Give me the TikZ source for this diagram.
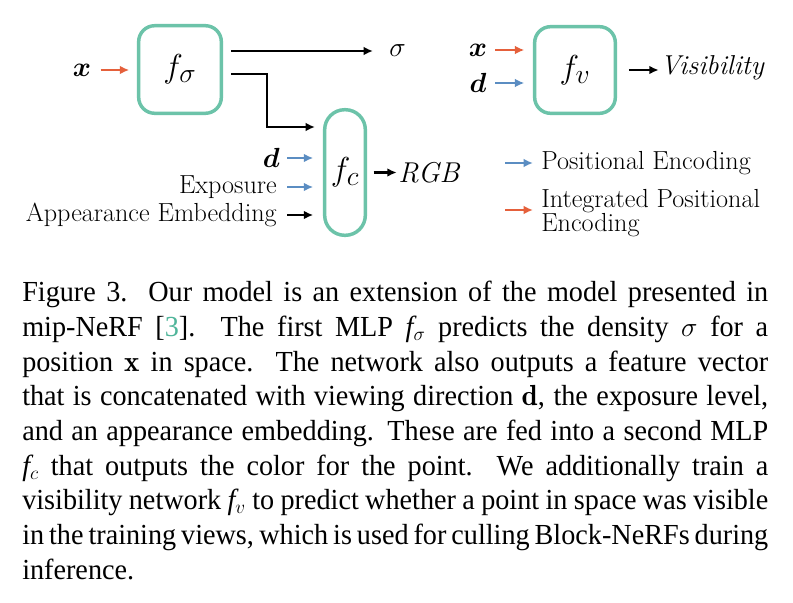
\documentclass[tikz,border=0pt]{standalone}
\usepackage{fontspec}
\usepackage{bm}
\usetikzlibrary{arrows.meta}
\newfontfamily\capfont[FakeStretch=0.97]{Liberation Serif}
\definecolor{boxc}{HTML}{6CC3A9}
\definecolor{ipec}{HTML}{E5603B}
\definecolor{pec}{HTML}{5B8DC2}
\definecolor{citec}{HTML}{4FB59A}
\hyphenpenalty=10000
\exhyphenpenalty=10000
\newcommand{\capf}{{\itshape f}}
\begin{document}
\begin{tikzpicture}[x=0.75pt,y=-0.75pt,
  mlp/.style={draw=boxc, line width=2.6pt, rounded corners=12pt, inner sep=0pt,
    font=\fontsize{30}{34}\selectfont},
  lbl/.style={inner sep=0pt, font=\fontsize{19.6}{23}\selectfont},
  big/.style={inner sep=0pt, font=\fontsize{21.5}{26}\selectfont},
  arr/.style={line width=1.6pt, -{Latex[length=7pt,width=6.5pt]}},
  capstyle/.style={anchor=north west, inner sep=0pt, text width=559.5pt, align=justify,
    font=\capfont\fontsize{21.8}{26}\selectfont}]
\path[use as bounding box, fill=white] (0,0) rectangle (793,603);

% boxes
\node[mlp, minimum width=62pt, minimum height=65.7pt] (fs) at (180,69.5) {$f_{\sigma}$};
\node[mlp, minimum width=30.5pt, minimum height=94.2pt, rounded corners=15pt] (fc) at (345,172.5) {$f_{c}$};
\node[mlp, minimum width=60.5pt, minimum height=65pt] (fv) at (575,70) {$f_{v}$};

% f_sigma inputs/outputs
\node[big] (xl) at (82,70) {$\bm{x}$};
\draw[arr, ipec, shorten <=7pt, shorten >=5.8pt] (xl.east) -- (xl.east -| fs.west);
\node[big, anchor=west] (sig) at (389,51) {$\sigma$};
\draw[arr, shorten <=6pt, shorten >=12pt] (fs.east |- sig) -- (sig.west);
\coordinate (b1) at (267,74);
\coordinate (fcin) at (315,127);
\draw[arr, line cap=butt] ([xshift=6pt]fs.east |- b1) -- (b1) |- (fcin);

% f_c inputs
\node[big, anchor=east] (dl) at (280,158) {$\bm{d}$};
\node[lbl, anchor=east] (exl) at (277,187) {Exposure};
\node[lbl, anchor=east] (apl) at (277,215) {Appearance Embedding};
\draw[arr, pec, shorten <=5.5pt, shorten >=7.3pt] (dl.east) -- (dl.east -| fc.west);
\draw[arr, pec, shorten <=7.5pt, shorten >=7.3pt] (exl.east) -- (exl.east -| fc.west);
\draw[arr, shorten <=7.5pt, shorten >=7.3pt] (apl.east) -- (apl.east -| fc.west);
\node[big, anchor=west] (rgb) at (398,173) {\textit{RGB}};
\draw[arr, shorten <=5pt, shorten >=1pt] (fc.east) -- (fc.east -| rgb.west);

% f_v
\node[big] (xv) at (478,50) {$\bm{x}$};
\node[big] (dv) at (478,83) {$\bm{d}$};
\draw[arr, ipec, shorten <=13pt, shorten >=6.5pt] (xv.center) -- (xv.center -| fv.west);
\draw[arr, pec, shorten <=13pt, shorten >=6.5pt] (dv.center) -- (dv.center -| fv.west);
\node[inner sep=0pt, font=\fontsize{20.5}{24}\selectfont, anchor=west] (vis) at (660,68) {\textit{Visibility}};
\draw[arr, shorten <=8.8pt, shorten >=1pt] (fv.east) -- (fv.east -| vis.west);

% legend
\coordinate (pa) at (505,163);
\coordinate (ia) at (505,210);
\node[lbl, anchor=west] (pel) at (541,163) {Positional Encoding};
\node[lbl, anchor=west, align=left, font=\fontsize{19.6}{16.8}\selectfont] (ipel) at (541,213) {Integrated Positional\\Encoding};
\draw[arr, pec, shorten >=6pt] (pa) -- (pa -| pel.west);
\draw[arr, ipec, shorten >=6pt] (ia) -- (ia -| ipel.west);

% caption
\node[capstyle] (cap) at (22,281) {Figure 3.\ \ Our model is an extension of the model presented in\linebreak
mip-NeRF [\textcolor{citec}{3}].\ \ The first MLP \capf$_{\sigma}$ predicts the density $\sigma$ for a\linebreak
position $\mathbf{x}$ in space.\ \ The network also outputs a feature vector\linebreak
that is concatenated with viewing direction $\mathbf{d}$, the exposure level,\linebreak
and an appearance embedding. These are fed into a second MLP\linebreak
\capf$_{c}$ that outputs the color for the point.\ \ We additionally train a\linebreak
visibility network \capf$_{v}$ to predict whether a point in space was visible\linebreak
in the training views, which is used for culling Block-NeRFs during\linebreak
inference.};
\end{tikzpicture}
\end{document}
